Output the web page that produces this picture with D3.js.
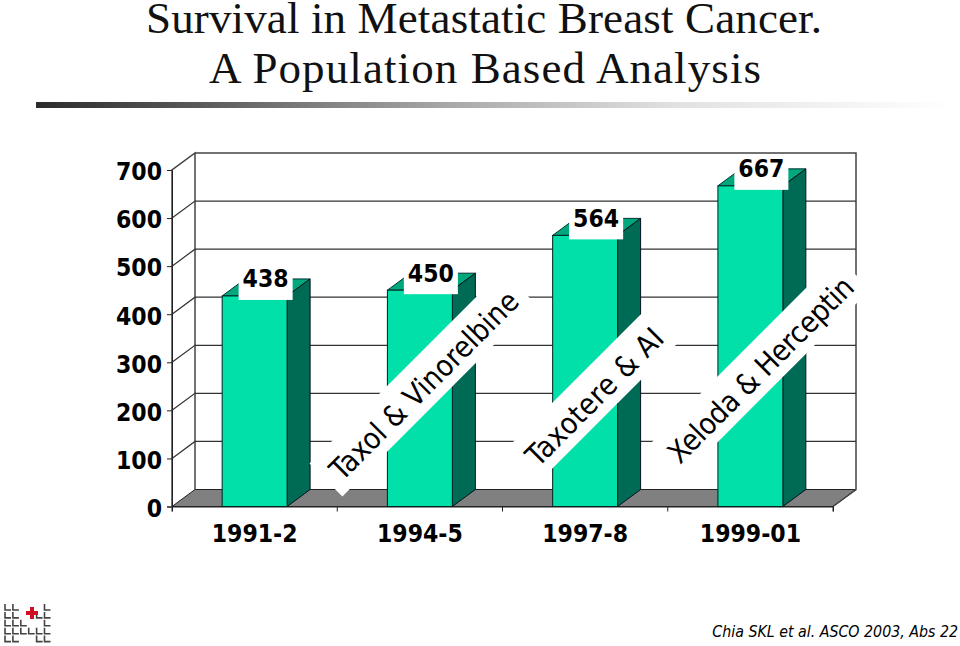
<!DOCTYPE html>
<html><head><meta charset="utf-8">
<script src="https://cdn.jsdelivr.net/npm/d3@7/dist/d3.min.js"></script>
<style>html,body{margin:0;padding:0;background:#fff}svg{display:block}</style>
</head><body><svg id="c" width="960" height="646"></svg>
<script>
const categories = ["1991-2","1994-5","1997-8","1999-01"];
const values = [438,450,564,667];
const yTicks = [0,100,200,300,400,500,600,700];
const drugLabels = ["Taxol & Vinorelbine","Taxotere & AI","Xeloda & Herceptin"];
const titleLines = ["Survival in Metastatic Breast Cancer.","A Population Based Analysis"];
const footnote = "Chia SKL et al. ASCO 2003, Abs 22";

const sans = "'DejaVu Sans Condensed','DejaVu Sans',sans-serif";
const svg = d3.select("#c");
const left=172,right=833,y0=506.5,y700=170,dx=23,dy=-17;
const x = d3.scaleBand().domain(categories).range([left,right]).paddingInner(0.607).paddingOuter(0.3035);
const band = d3.scaleBand().domain(categories).range([left,right]);
const y = d3.scaleLinear().domain([0,700]).range([y0,y700]);

// title
const titleBox=[[146,676],[209,552]];
svg.selectAll(".title").data(titleLines).join("text")
 .attr("x",(d,i)=>titleBox[i][0]).attr("y",(d,i)=>33+i*50)
 .attr("textLength",(d,i)=>titleBox[i][1]).attr("lengthAdjust","spacing")
 .attr("font-family","'Liberation Serif',serif").attr("font-size",45).attr("fill","#111").text(d=>d);

// gradient rule
const defs=svg.append("defs");
const g=defs.append("linearGradient").attr("id","rule");
[[0,"#2c2c2c"],[0.18,"#5a5a5a"],[0.45,"#a8a8a8"],[0.7,"#e2e2e2"],[1,"#ffffff"]].forEach(s=>g.append("stop").attr("offset",s[0]).attr("stop-color",s[1]));
svg.append("rect").attr("x",36).attr("y",102).attr("width",916).attr("height",6).attr("fill","url(#rule)");

// floor
svg.append("polygon").attr("fill","#808080").attr("stroke","#222").attr("stroke-width",1)
 .attr("points",[[left,y0],[left+dx,y0+dy],[right+dx,y0+dy],[right,y0]].join(" "));
// walls
svg.append("path").attr("fill","none").attr("stroke","#444").attr("stroke-width",1.5)
 .attr("d",`M${left},${y0}V${y700}L${left+dx},${y700+dy}V${y0+dy}M${left+dx},${y700+dy}H${right+dx}V${y0+dy}L${right},${y0}`);
// gridlines
svg.selectAll(".grid").data(yTicks.slice(1,-1)).join("path").attr("fill","none").attr("stroke","#333").attr("stroke-width",1.2)
 .attr("d",d=>`M${left},${y(d)}L${left+dx},${y(d)+dy}H${right+dx}`);

// axes
const axY=svg.append("g").attr("transform",`translate(${left},0)`).call(d3.axisLeft(y).tickValues(yTicks).tickSize(5).tickPadding(5));
const axX=svg.append("g").attr("transform",`translate(0,${y0})`).call(d3.axisBottom(band).tickSize(5).tickPadding(13));
axX.selectAll(".tick line").attr("x1",d=>band.step()/-2).attr("x2",d=>band.step()/-2);
axX.append("line").attr("x1",right).attr("x2",right).attr("y1",0).attr("y2",5).attr("stroke","#222");
[axY,axX].forEach(a=>{a.select(".domain").attr("stroke","#222");a.selectAll("line").attr("stroke","#222");
 a.selectAll("text").attr("font-family",sans).attr("font-weight","bold").attr("font-size",24.5).attr("fill","#000");});
axY.selectAll("text").attr("dy","0.4em");

// bars
const bars=svg.selectAll(".bar").data(categories.map((c,i)=>({c,v:values[i]}))).join("g");
bars.append("polygon").attr("fill","#00A87C").attr("stroke","#033").attr("stroke-width",1)
 .attr("points",d=>[[x(d.c),y(d.v)],[x(d.c)+dx,y(d.v)+dy],[x(d.c)+x.bandwidth()+dx,y(d.v)+dy],[x(d.c)+x.bandwidth(),y(d.v)]].join(" "));
bars.append("polygon").attr("fill","#006B54").attr("stroke","#012").attr("stroke-width",1)
 .attr("points",d=>[[x(d.c)+x.bandwidth(),y(d.v)],[x(d.c)+x.bandwidth()+dx,y(d.v)+dy],[x(d.c)+x.bandwidth()+dx,y0+dy],[x(d.c)+x.bandwidth(),y0]].join(" "));
bars.append("rect").attr("x",d=>x(d.c)).attr("y",d=>y(d.v)).attr("width",x.bandwidth()).attr("height",d=>y0-y(d.v))
 .attr("fill","#00E0A8").attr("stroke","#022").attr("stroke-width",1);

// value labels
bars.append("rect").attr("x",d=>x(d.c)+x.bandwidth()/2+11-27).attr("y",d=>y(d.v)-28).attr("width",54).attr("height",32).attr("fill","#fff");
bars.append("text").attr("x",d=>x(d.c)+x.bandwidth()/2+11).attr("y",d=>y(d.v)-8.5).attr("text-anchor","middle")
 .attr("font-family",sans).attr("font-weight","bold").attr("font-size",24.5).attr("fill","#000").text(d=>d.v);

// rotated drug labels
const labelAnchors=[[342,482],[538,468],[680,465]];
const labelFit=[1.0,1.03,0.97];
drugLabels.forEach((t,i)=>{
 const gr=svg.append("g").attr("transform",`translate(${labelAnchors[i][0]},${labelAnchors[i][1]}) rotate(-45)`);
 const tx=gr.append("text").attr("x",0).attr("y",0).attr("font-family",sans).attr("font-size",29.5).attr("fill","#000").text(t);
 const w=tx.node().getComputedTextLength()*labelFit[i];
 tx.attr("textLength",w).attr("lengthAdjust","spacing");
 gr.insert("rect","text").attr("x",-10).attr("y",-36).attr("width",w+20).attr("height",46.5).attr("fill","#fff");
});

// footnote
svg.append("text").attr("x",958).attr("y",637).attr("text-anchor","end").attr("font-family",sans).attr("font-style","italic").attr("font-size",15.8).attr("fill","#000").text(footnote);

// logo
const logoRows=["110001","110011","111001","111111","110011"];
const lg=svg.append("g").attr("stroke","#444").attr("fill","none").attr("stroke-width",1.6);
logoRows.forEach((row,r)=>row.split("").forEach((f,c)=>{
 if(f==="1") lg.append("path").attr("d",`M${5+c*7.9},${604+r*7.9}v6h6`);
}));
svg.append("path").attr("d","M32,607v12M26,613h12").attr("stroke","#d01020").attr("stroke-width",4);
</script></body></html>
